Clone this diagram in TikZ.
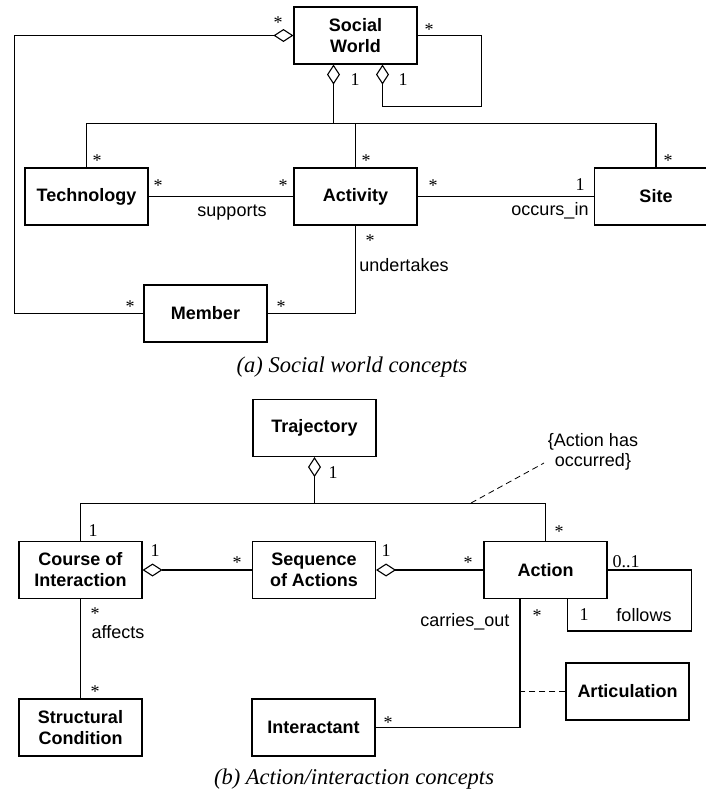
\documentclass[tikz,border=0pt]{standalone}
\usepackage{fontspec}
\setmainfont{Liberation Serif}
\setsansfont{Liberation Sans}
\usetikzlibrary{arrows.meta}

\tikzset{
  cls/.style={draw, minimum width=123pt, minimum height=57pt, inner sep=0pt, align=center,
    font=\fontsize{18}{21}\selectfont\sffamily\bfseries},
  mult/.style={inner sep=0pt, font=\fontsize{18}{21}\selectfont},
  role/.style={inner sep=0pt, align=center, font=\fontsize{18}{20}\selectfont\sffamily},
  agg/.style={{Diamond[open,length=20pt,width=13pt]}-},
  constraint/.style={dash pattern=on 6pt off 4pt},
  caption/.style={inner sep=0pt, font=\fontsize{22.5}{24}\selectfont\itshape}
}

\begin{document}
\begin{tikzpicture}[x=1pt, y=-1pt, line width=1.1pt]
	\useasboundingbox (0,0) rectangle (706,796);

	% (a) social world
	\node[cls] (sw) at (355.5,35.5) {Social\\World};
	\node[cls] (tech) at (86.5,196.5) {Technology};
	\node[cls] (act) at (355.5,196.5) {Activity};
	\node[cls] (site) at (656,196.5) {Site};
	\node[cls] (member) at (205.5,313.5) {Member};

	\draw[agg] (sw.west) -- ++(-279,0) |- (member.west);
	\draw[agg] ([xshift=-22pt]sw.south) -- ++(0,59) coordinate (part);
	\draw (tech.north) |- (part) -| (site.north);
	\draw (act.north) -- (act.north |- part);
	\draw[agg] ([xshift=27pt]sw.south) -- ++(0,42) -| ([xshift=64pt]sw.east) -- (sw.east);
	\draw (tech) -- (act);
	\draw (act) -- (site);
	\draw (act.south) |- (member.east);

	\node[mult] (swm1) at (278,22.5) {*};
	\node[mult] (swm2) at (429,29.5) {*};
	\node[mult] (swm3) at (355,80) {1};
	\node[mult] (swm4) at (403,80) {1};
	\node[mult] (techm1) at (97,160.5) {*};
	\node[mult] (actm1) at (366,160.5) {*};
	\node[mult] (sitem1) at (668,160.5) {*};
	\node[mult] (techm2) at (158,185.5) {*};
	\node[mult] (actm2) at (283,185.5) {*};
	\node[mult] (actm3) at (433,185.5) {*};
	\node[mult] (sitem2) at (580,185) {1};
	\node[mult] (actm4) at (370,240.5) {*};
	\node[mult] (memberm1) at (130,306.5) {*};
	\node[mult] (memberm2) at (281,306.5) {*};
	\node[role] (supports) at (232,213) {supports};
	\node[role] (occurs) at (550,211) {occurs\_in};
	\node[role] (undertakes) at (404,265) {undertakes};
	\node[caption] (capa) at (352,367) {(a) Social world concepts};

	% (b) action / interaction
	\node[cls] (traj) at (314.5,428) {Trajectory};
	\node[cls] (coi) at (80.5,570) {Course of\\Interaction};
	\node[cls] (seq) at (314,570) {Sequence\\of Actions};
	\node[cls] (action) at (545.5,570) {Action};
	\node[cls] (cond) at (80.5,727.5) {Structural\\Condition};
	\node[cls] (inter) at (313.5,727.5) {Interactant};
	\node[cls] (artic) at (627.5,691.5) {Articulation};
	\node[role] (note) at (593,452) {\{Action has\\occurred\}};

	\draw[agg] (traj.south) -- ++(0,46) coordinate (bus);
	\draw (coi.north) |- (bus) -| (action.north);
	\draw[agg] (coi.east) -- (seq.west);
	\draw[agg] (seq.east) -- (action.west);
	\draw (action.east) -- ++(84,0) -- ++(0,61) -| ([xshift=22pt]action.south);
	\draw ([xshift=-25.5pt]action.south) |- (inter.east);
	\draw[constraint] (artic.west) -- ([xshift=-25.5pt]action.south |- artic.west);
	\draw (coi) -- (cond);
	\coordinate (busmark) at (471,503);
	\coordinate (noteend) at (544,463);
	\draw[constraint, line width=0.8pt] (busmark) -- (noteend);

	\node[mult] (trajm1) at (333,473) {1};
	\node[mult] (coim1) at (93,531) {1};
	\node[mult] (coim2) at (155,551) {1};
	\node[mult] (seqm1) at (237,562.5) {*};
	\node[mult] (seqm2) at (386,551) {1};
	\node[mult] (actionm1) at (468,562.5) {*};
	\node[mult] (actionm2) at (559,531.5) {*};
	\node[mult] (actionm3) at (626,562) {0..1};
	\node[mult] (coim3) at (95,613.5) {*};
	\node[mult] (condm1) at (95,691.5) {*};
	\node[mult] (actionm4) at (537,615.5) {*};
	\node[mult] (actionm5) at (584,615) {1};
	\node[mult] (interm1) at (388,722.5) {*};
	\node[role] (affects) at (118,632) {affects};
	\node[role, anchor=east] (carries) at (510,622) {carries\_out};
	\node[role] (follows) at (644,615) {follows};
	\node[caption] (capb) at (354,779) {(b) Action/interaction concepts};
\end{tikzpicture}
\end{document}
